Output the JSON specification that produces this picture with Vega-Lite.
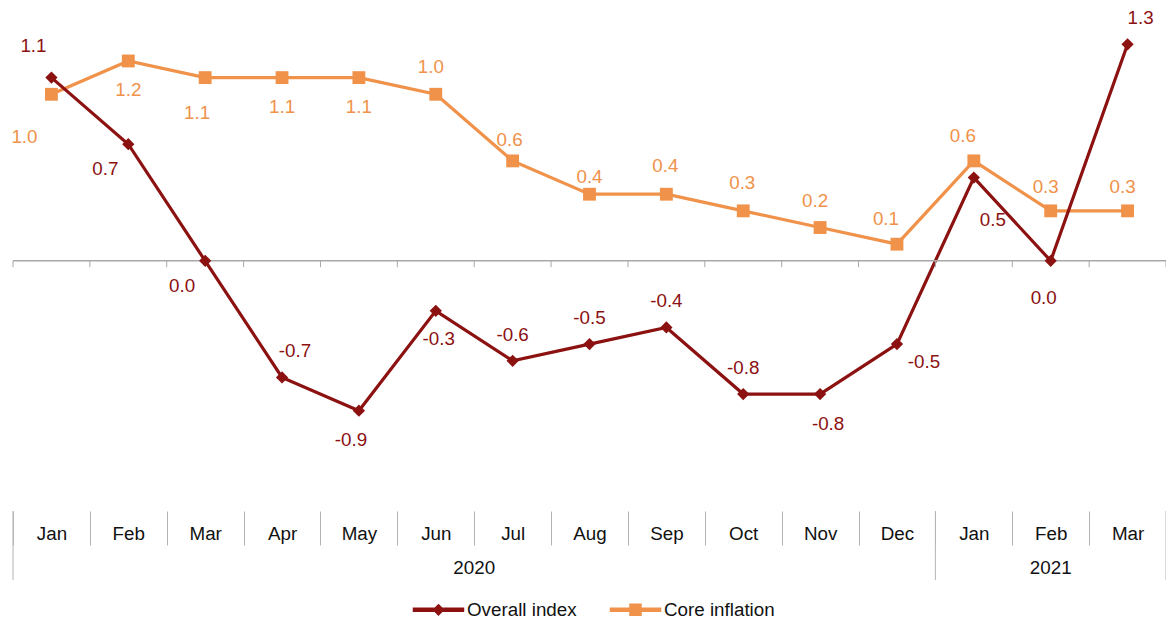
{
  "$schema": "https://vega.github.io/schema/vega-lite/v6.json",
  "width": 1153,
  "height": 483,
  "autosize": {"type": "none"},
  "padding": {"left": 13, "top": 11, "right": 0, "bottom": 129},
  "config": {
    "font": "Liberation Sans",
    "view": {"stroke": null},
    "locale": {"number": {"decimal": ".", "thousands": ",", "grouping": [3], "currency": ["$", ""], "minus": "-"}},
    "axisX": {
      "title": null, "orient": "bottom", "offset": 17, "domain": false, "grid": false,
      "tickBand": "extent", "tickSize": 34, "tickColor": "#B4B4B4", "tickWidth": 1,
      "labelAngle": 0, "labelPadding": -12, "labelBaseline": "middle", "labelAlign": "center",
      "labelFontSize": 18.8, "labelColor": "#111111", "labelOverlap": false
    }
  },
  "data": {
    "values": [
      {"p": "2020-01", "s": "Core inflation", "v": 1.0},
      {"p": "2020-02", "s": "Core inflation", "v": 1.2},
      {"p": "2020-03", "s": "Core inflation", "v": 1.1},
      {"p": "2020-04", "s": "Core inflation", "v": 1.1},
      {"p": "2020-05", "s": "Core inflation", "v": 1.1},
      {"p": "2020-06", "s": "Core inflation", "v": 1.0},
      {"p": "2020-07", "s": "Core inflation", "v": 0.6},
      {"p": "2020-08", "s": "Core inflation", "v": 0.4},
      {"p": "2020-09", "s": "Core inflation", "v": 0.4},
      {"p": "2020-10", "s": "Core inflation", "v": 0.3},
      {"p": "2020-11", "s": "Core inflation", "v": 0.2},
      {"p": "2020-12", "s": "Core inflation", "v": 0.1},
      {"p": "2021-01", "s": "Core inflation", "v": 0.6},
      {"p": "2021-02", "s": "Core inflation", "v": 0.3},
      {"p": "2021-03", "s": "Core inflation", "v": 0.3},
      {"p": "2020-01", "s": "Overall index", "v": 1.1},
      {"p": "2020-02", "s": "Overall index", "v": 0.7},
      {"p": "2020-03", "s": "Overall index", "v": 0.0},
      {"p": "2020-04", "s": "Overall index", "v": -0.7},
      {"p": "2020-05", "s": "Overall index", "v": -0.9},
      {"p": "2020-06", "s": "Overall index", "v": -0.3},
      {"p": "2020-07", "s": "Overall index", "v": -0.6},
      {"p": "2020-08", "s": "Overall index", "v": -0.5},
      {"p": "2020-09", "s": "Overall index", "v": -0.4},
      {"p": "2020-10", "s": "Overall index", "v": -0.8},
      {"p": "2020-11", "s": "Overall index", "v": -0.8},
      {"p": "2020-12", "s": "Overall index", "v": -0.5},
      {"p": "2021-01", "s": "Overall index", "v": 0.5},
      {"p": "2021-02", "s": "Overall index", "v": 0.0},
      {"p": "2021-03", "s": "Overall index", "v": 1.3}
    ]
  },
  "layer": [
    {
      "mark": {"type": "line", "strokeWidth": 3.2},
      "encoding": {
        "x": {
          "field": "p", "type": "ordinal", "bandPosition": 0.5,
          "scale": {"type": "band", "paddingInner": 0, "paddingOuter": 0,
            "domain": ["2020-01","2020-02","2020-03","2020-04","2020-05","2020-06","2020-07","2020-08","2020-09","2020-10","2020-11","2020-12","2021-01","2021-02","2021-03"]},
          "axis": {
            "title": null,
            "labelExpr": "['Jan','Feb','Mar','Apr','May','Jun','Jul','Aug','Sep','Oct','Nov','Dec'][toNumber(substring(datum.value,5,7))-1]"
          }
        },
        "y": {"field": "v", "type": "quantitative", "scale": {"domain": [-1.4, 1.5], "nice": false, "zero": false}, "axis": null},
        "color": {
          "field": "s", "type": "nominal",
          "scale": {"domain": ["Overall index", "Core inflation"], "range": ["#8C1111", "#F0924A"]},
          "legend": {
            "orient": "none", "legendX": 408, "legendY": 581, "direction": "horizontal", "title": null,
            "padding": 0, "symbolSize": 1111, "labelFontSize": 18.8, "symbolType": "square",
            "labelColor": "#111111", "labelOffset": 11, "columnPadding": 30,
            "encode": {
              "symbols": {
                "update": {
                  "shape": {"signal": "datum.value === 'Overall index' ? 'M-1.5,-0.09H1.5V0.09H-1.5Z M0,-0.3L0.3,0L0,0.3L-0.3,0Z' : 'M-1.5,-0.09H1.5V0.09H-1.5Z M-0.33,-0.33H0.33V0.33H-0.33Z'"},
                  "fill": {"signal": "datum.value === 'Overall index' ? '#8C1111' : '#F0924A'"},
                  "stroke": {"value": "transparent"},
                  "size": {"value": 1111},
                  "opacity": {"value": 1},
                  "fillOpacity": {"value": 1}
                }
              }
            }
          }
        }
      }
    },
    {
      "data": {"values": [{}]},
      "mark": {"type": "rule", "color": "#A8A8A8", "strokeWidth": 1.5},
      "encoding": {"y": {"datum": 0, "type": "quantitative", "axis": null}}
    },
    {
      "transform": [{"filter": "datum.s == 'Overall index'"}],
      "mark": {"type": "rule", "color": "#A8A8A8", "strokeWidth": 1},
      "encoding": {
        "x": {"field": "p", "type": "ordinal", "bandPosition": 0},
        "y": {"datum": 0, "type": "quantitative", "axis": null},
        "y2": {"datum": -0.038}
      }
    },
    {
      "data": {"values": [{}]},
      "mark": {"type": "rule", "color": "#A8A8A8", "strokeWidth": 1},
      "encoding": {
        "x": {"datum": "2021-03", "type": "ordinal", "bandPosition": 1},
        "y": {"datum": 0, "type": "quantitative", "axis": null},
        "y2": {"datum": -0.038}
      }
    },
    {
      "transform": [{"filter": "datum.s == 'Overall index' && (datum.p == '2020-01' || datum.p == '2021-01')"}],
      "mark": {"type": "rule", "color": "#B4B4B4", "strokeWidth": 1},
      "encoding": {
        "x": {"field": "p", "type": "ordinal", "bandPosition": 0},
        "y": {"datum": -1.502, "type": "quantitative", "axis": null},
        "y2": {"datum": -1.916}
      }
    },
    {
      "data": {"values": [{}]},
      "mark": {"type": "rule", "color": "#B4B4B4", "strokeWidth": 1},
      "encoding": {
        "x": {"datum": "2021-03", "type": "ordinal", "bandPosition": 1},
        "y": {"datum": -1.502, "type": "quantitative", "axis": null},
        "y2": {"datum": -1.916}
      }
    },
    {
      "data": {"values": [{"year": "2020"}]},
      "mark": {"type": "text", "fontSize": 18.8, "color": "#111111", "baseline": "middle", "align": "center"},
      "encoding": {
        "x": {"datum": "2020-07", "type": "ordinal", "bandPosition": 0},
        "y": {"datum": -1.844, "type": "quantitative", "axis": null},
        "text": {"field": "year", "type": "nominal"}
      }
    },
    {
      "data": {"values": [{"year": "2021"}]},
      "mark": {"type": "text", "fontSize": 18.8, "color": "#111111", "baseline": "middle", "align": "center"},
      "encoding": {
        "x": {"datum": "2021-02", "type": "ordinal", "bandPosition": 0.5},
        "y": {"datum": -1.844, "type": "quantitative", "axis": null},
        "text": {"field": "year", "type": "nominal"}
      }
    },
    {
      "transform": [{"filter": "datum.s == 'Core inflation'"}],
      "mark": {"type": "point", "filled": true, "opacity": 1, "shape": "square", "size": 165, "color": "#F0924A"},
      "encoding": {
        "x": {"field": "p", "type": "ordinal", "bandPosition": 0.5},
        "y": {"field": "v", "type": "quantitative", "axis": null}
      }
    },
    {
      "transform": [{"filter": "datum.s == 'Overall index'"}],
      "mark": {"type": "point", "filled": true, "opacity": 1, "shape": "diamond", "size": 150, "color": "#8C1111"},
      "encoding": {
        "x": {"field": "p", "type": "ordinal", "bandPosition": 0.5},
        "y": {"field": "v", "type": "quantitative", "axis": null}
      }
    },
    {
      "encoding": {
        "x": {"field": "p", "type": "ordinal", "bandPosition": 0.5},
        "y": {"field": "v", "type": "quantitative", "axis": null},
        "text": {"field": "v", "type": "quantitative", "format": ".1f"}
      },
      "layer": [
        {"transform": [{"filter": "datum.s == 'Overall index' && indexof(['2020-07','2020-08','2020-09','2020-10'], datum.p) >= 0"}],
         "mark": {"type": "text", "fontSize": 18.8, "color": "#8C1111", "baseline": "middle", "align": "center", "dx": 0, "dy": -26}},
        {"transform": [{"filter": "datum.s == 'Overall index' && datum.p == '2020-01'"}],
         "mark": {"type": "text", "fontSize": 18.8, "color": "#8C1111", "baseline": "middle", "align": "center", "dx": -18, "dy": -32}},
        {"transform": [{"filter": "datum.s == 'Overall index' && indexof(['2020-04','2021-03'], datum.p) >= 0"}],
         "mark": {"type": "text", "fontSize": 18.8, "color": "#8C1111", "baseline": "middle", "align": "center", "dx": 13, "dy": -26}},
        {"transform": [{"filter": "datum.s == 'Overall index' && indexof(['2020-02','2020-03'], datum.p) >= 0"}],
         "mark": {"type": "text", "fontSize": 18.8, "color": "#8C1111", "baseline": "middle", "align": "center", "dx": -23, "dy": 25}},
        {"transform": [{"filter": "datum.s == 'Overall index' && datum.p == '2020-05'"}],
         "mark": {"type": "text", "fontSize": 18.8, "color": "#8C1111", "baseline": "middle", "align": "center", "dx": -8, "dy": 29}},
        {"transform": [{"filter": "datum.s == 'Overall index' && datum.p == '2020-06'"}],
         "mark": {"type": "text", "fontSize": 18.8, "color": "#8C1111", "baseline": "middle", "align": "center", "dx": 3, "dy": 28}},
        {"transform": [{"filter": "datum.s == 'Overall index' && datum.p == '2020-11'"}],
         "mark": {"type": "text", "fontSize": 18.8, "color": "#8C1111", "baseline": "middle", "align": "center", "dx": 8, "dy": 30}},
        {"transform": [{"filter": "datum.s == 'Overall index' && datum.p == '2020-12'"}],
         "mark": {"type": "text", "fontSize": 18.8, "color": "#8C1111", "baseline": "middle", "align": "center", "dx": 27, "dy": 18}},
        {"transform": [{"filter": "datum.s == 'Overall index' && datum.p == '2021-01'"}],
         "mark": {"type": "text", "fontSize": 18.8, "color": "#8C1111", "baseline": "middle", "align": "center", "dx": 19, "dy": 42}},
        {"transform": [{"filter": "datum.s == 'Overall index' && datum.p == '2021-02'"}],
         "mark": {"type": "text", "fontSize": 18.8, "color": "#8C1111", "baseline": "middle", "align": "center", "dx": -7, "dy": 37}},
        {"transform": [{"filter": "datum.s == 'Core inflation' && indexof(['2020-02','2020-04','2020-05'], datum.p) >= 0"}],
         "mark": {"type": "text", "fontSize": 18.8, "color": "#F0924A", "baseline": "middle", "align": "center", "dx": 0, "dy": 29}},
        {"transform": [{"filter": "datum.s == 'Core inflation' && datum.p == '2020-01'"}],
         "mark": {"type": "text", "fontSize": 18.8, "color": "#F0924A", "baseline": "middle", "align": "center", "dx": -27, "dy": 43}},
        {"transform": [{"filter": "datum.s == 'Core inflation' && datum.p == '2020-03'"}],
         "mark": {"type": "text", "fontSize": 18.8, "color": "#F0924A", "baseline": "middle", "align": "center", "dx": -8, "dy": 35}},
        {"transform": [{"filter": "datum.s == 'Core inflation' && indexof(['2020-06','2020-11'], datum.p) >= 0"}],
         "mark": {"type": "text", "fontSize": 18.8, "color": "#F0924A", "baseline": "middle", "align": "center", "dx": -5, "dy": -27}},
        {"transform": [{"filter": "datum.s == 'Core inflation' && datum.p == '2020-07'"}],
         "mark": {"type": "text", "fontSize": 18.8, "color": "#F0924A", "baseline": "middle", "align": "center", "dx": -3, "dy": -21}},
        {"transform": [{"filter": "datum.s == 'Core inflation' && datum.p == '2020-08'"}],
         "mark": {"type": "text", "fontSize": 18.8, "color": "#F0924A", "baseline": "middle", "align": "center", "dx": 0, "dy": -17}},
        {"transform": [{"filter": "datum.s == 'Core inflation' && indexof(['2020-09','2020-10'], datum.p) >= 0"}],
         "mark": {"type": "text", "fontSize": 18.8, "color": "#F0924A", "baseline": "middle", "align": "center", "dx": -1, "dy": -28}},
        {"transform": [{"filter": "datum.s == 'Core inflation' && indexof(['2020-12','2021-01'], datum.p) >= 0"}],
         "mark": {"type": "text", "fontSize": 18.8, "color": "#F0924A", "baseline": "middle", "align": "center", "dx": -11, "dy": -25}},
        {"transform": [{"filter": "datum.s == 'Core inflation' && indexof(['2021-02','2021-03'], datum.p) >= 0"}],
         "mark": {"type": "text", "fontSize": 18.8, "color": "#F0924A", "baseline": "middle", "align": "center", "dx": -5, "dy": -24}}
      ]
    }
  ]
}
